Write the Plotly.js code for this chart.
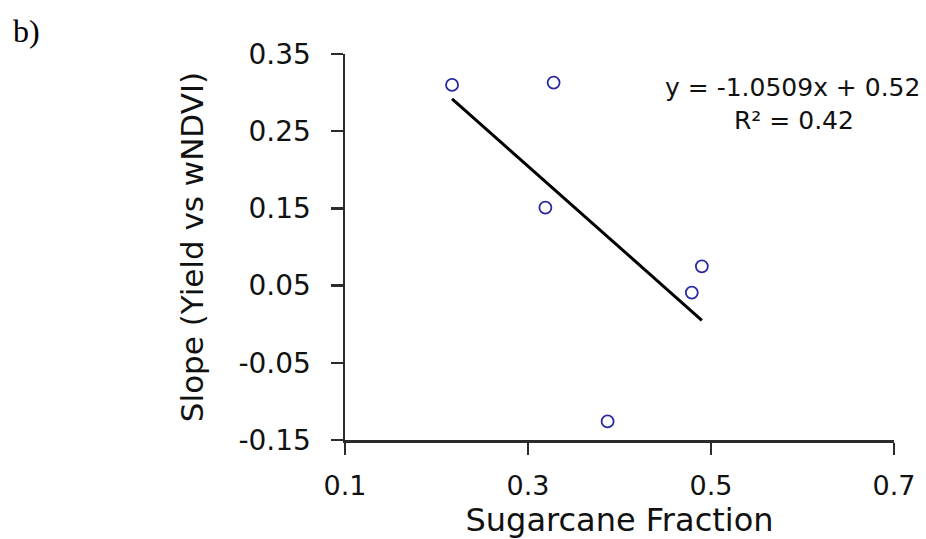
<!DOCTYPE html>
<html>
<head>
<meta charset="utf-8">
<script src="https://cdn.plot.ly/plotly-3.0.1.min.js"></script>
<style>
  html, body { margin: 0; padding: 0; background: #fff; }
  #chart { width: 926px; height: 539px; }
</style>
</head>
<body>
<div id="chart"></div>
<script>
// Sugarcane fraction vs. slope of the yield–wNDVI relation
const sugarcaneFraction = [0.217, 0.328, 0.319, 0.387, 0.479, 0.490];
const slopeYieldWndvi   = [0.310, 0.313, 0.151, -0.126, 0.041, 0.075];

// Linear fit reported on the chart
const fitSlope = -1.0509;
const fitIntercept = 0.52;
const fitR2 = 0.42;

const xTickVals = [0.1, 0.3, 0.5, 0.7];
const xTickText = ['0.1', '0.3', '0.5', '0.7'];
const yTickVals = [-0.15, -0.05, 0.05, 0.15, 0.25, 0.35];
const yTickText = ['-0.15', '-0.05', '0.05', '0.15', '0.25', '0.35'];

// Trend line spans the observed x range
const xMin = Math.min(...sugarcaneFraction);
const xMax = Math.max(...sugarcaneFraction);
const fitX = [xMin, xMax];
const fitY = fitX.map(x => fitSlope * x + fitIntercept);

const fmtSigned = v => (v < 0 ? '- ' : '+ ') + Math.abs(v).toFixed(2);
const eqText = 'y = ' + fitSlope.toFixed(4) + 'x ' + fmtSigned(fitIntercept);
const r2Text = 'R² = ' + fitR2.toFixed(2);

const font = 'DejaVu Sans, Liberation Sans, Arial, sans-serif';
const axisColor = '#2b2b2b';

const traces = [
  {
    x: sugarcaneFraction,
    y: slopeYieldWndvi,
    type: 'scatter',
    mode: 'markers',
    marker: {
      symbol: 'circle-open',
      size: 12,
      color: 'rgb(40,40,165)',
      line: { width: 1.8, color: 'rgb(40,40,165)' }
    },
    hoverinfo: 'x+y'
  },
  {
    x: fitX,
    y: fitY,
    type: 'scatter',
    mode: 'lines',
    line: { color: '#000', width: 3 },
    hoverinfo: 'skip'
  }
];

const layout = {
  width: 926,
  height: 539,
  paper_bgcolor: '#fff',
  plot_bgcolor: '#fff',
  showlegend: false,
  margin: { l: 345, r: 32, t: 54, b: 99, pad: 0 },
  font: { family: font, color: '#111' },
  xaxis: {
    range: [0.1, 0.7],
    tickvals: xTickVals,
    ticktext: xTickText,
    showgrid: false,
    zeroline: false,
    showline: true,
    linecolor: axisColor,
    linewidth: 2.5,
    ticks: 'outside',
    ticklen: 12,
    tickwidth: 2.5,
    tickcolor: axisColor,
    ticklabelstandoff: 8,
    tickfont: { family: font, size: 27, color: '#111' },
    title: { text: 'Sugarcane Fraction', font: { family: font, size: 32, color: '#111' }, standoff: 9 }
  },
  yaxis: {
    range: [-0.15, 0.35],
    tickvals: yTickVals,
    ticktext: yTickText,
    showgrid: false,
    zeroline: false,
    showline: true,
    linecolor: axisColor,
    linewidth: 2.5,
    ticks: 'outside',
    ticklen: 12,
    tickwidth: 2.5,
    tickcolor: axisColor,
    ticklabelstandoff: 14,
    tickfont: { family: font, size: 28, color: '#111' },
    title: { text: 'Slope (Yield vs wNDVI)', font: { family: font, size: 31, color: '#111' }, standoff: 26 }
  },
  annotations: [
    {
      text: eqText, xref: 'paper', yref: 'paper', x: 0.815, y: 0.912,
      xanchor: 'center', yanchor: 'middle', showarrow: false,
      font: { family: font, size: 25, color: '#111' }
    },
    {
      text: r2Text, xref: 'paper', yref: 'paper', x: 0.818, y: 0.829,
      xanchor: 'center', yanchor: 'middle', showarrow: false,
      font: { family: font, size: 25, color: '#111' }
    },
    {
      text: 'b)', xref: 'paper', yref: 'paper', x: -0.609, y: 1.06,
      xanchor: 'left', yanchor: 'middle', showarrow: false,
      font: { family: 'Liberation Serif, Times New Roman, serif', size: 32, color: '#000' }
    }
  ]
};

Plotly.newPlot('chart', traces, layout, { displayModeBar: false, staticPlot: true });
</script>
</body>
</html>
